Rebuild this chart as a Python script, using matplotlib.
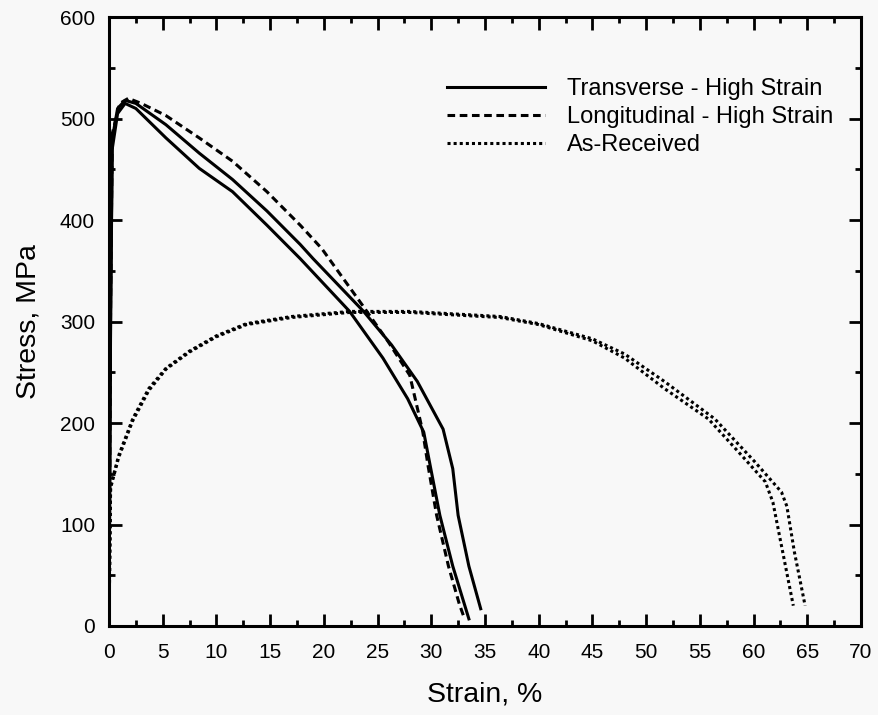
import numpy as np
import matplotlib.pyplot as plt

# data (strain %, stress MPa)
trans1_x = [0, 0.15, 0.3, 0.8, 1.5, 2.5, 5.3, 8.4, 11.5, 14.7, 17.8, 22.4, 25.5, 27.8, 29.3, 29.9, 30.8, 32.0, 33.5]
trans1_y = [0, 300, 470, 505, 515, 510, 481, 451, 428, 395, 362, 310, 264, 224, 191, 158, 109, 59, 7]

trans2_x = [0, 0.15, 0.3, 0.8, 1.5, 2.5, 5.3, 8.4, 11.5, 14.7, 17.8, 19.0, 23.7, 26.3, 28.7, 31.1, 32.0, 32.5, 33.5, 34.6]
trans2_y = [0, 310, 480, 510, 518, 515, 494, 466, 440, 409, 376, 362, 310, 277, 241, 194, 155, 109, 59, 17]

long_x = [0, 0.15, 0.3, 1.0, 1.8, 3.0, 5.3, 8.4, 11.5, 14.7, 17.8, 19.8, 23.6, 26.0, 28.0, 29.2, 29.7, 30.5, 31.6, 32.6, 33.0]
long_y = [0, 320, 485, 515, 520, 515, 503, 481, 458, 428, 395, 372, 316, 280, 247, 192, 158, 109, 59, 22, 10]

asrec1_x = [0, 0.15, 0.9, 2.2, 3.7, 5.3, 7.5, 10.0, 12.8, 17.0, 22.4, 28.0, 36.4, 40.0, 45.0, 48.0, 51.7, 56.4, 60.1, 62.6, 63.1, 63.8, 64.8]
asrec1_y = [0, 138, 168, 204, 234, 254, 271, 286, 298, 305, 310, 310, 305, 298, 283, 268, 241, 204, 162, 132, 118, 73, 20]

asrec2_x = [0, 0.15, 0.9, 2.2, 3.7, 5.3, 7.5, 10.0, 12.8, 17.0, 22.4, 28.0, 36.4, 40.0, 45.0, 48.0, 51.7, 55.8, 58.9, 61.1, 61.8, 62.6, 63.7]
asrec2_y = [0, 136, 166, 202, 232, 253, 270, 285, 297, 304, 309, 309, 304, 297, 281, 264, 234, 204, 168, 142, 122, 79, 20]

plt.rcParams['font.family'] = ['Liberation Sans', 'DejaVu Sans']

fig = plt.figure(figsize=(8.79, 7.15), dpi=100, facecolor='#f8f8f8')
ax = fig.add_axes([0.124, 0.1245, 0.8555, 0.8515])
ax.set_facecolor('#f8f8f8')

lw = 2.2
ax.plot(trans1_x, trans1_y, color='black', lw=lw, ls='-', label='Transverse - High Strain')
ax.plot(trans2_x, trans2_y, color='black', lw=lw, ls='-')
ax.plot(long_x, long_y, color='black', lw=lw, ls=(0, (2.5, 1.5)), label='Longitudinal - High Strain')
ax.plot(asrec1_x, asrec1_y, color='black', lw=lw, ls=(0, (1, 1)), label='As-Received')
ax.plot(asrec2_x, asrec2_y, color='black', lw=lw, ls=(0, (1, 1)))

ax.set_xlim(0, 70)
ax.set_ylim(0, 600)
ax.set_xticks(np.arange(0, 71, 5))
ax.set_xticks(np.arange(2.5, 70, 5), minor=True)
ax.set_yticks(np.arange(0, 601, 100))
ax.set_yticks(np.arange(50, 600, 100), minor=True)
ax.tick_params(which='both', direction='in', top=True, right=True, width=2, labelsize=15)
ax.tick_params(which='major', length=9)
ax.tick_params(which='minor', length=4.5)
ax.tick_params(axis='x', which='major', pad=12)
ax.tick_params(axis='y', which='major', pad=10)
for s in ax.spines.values():
    s.set_linewidth(2.2)

ax.set_xlabel('Strain, %', fontsize=20.5, labelpad=14)
ax.set_ylabel('Stress, MPa', fontsize=20.5, labelpad=13)

leg = ax.legend(loc='upper right', bbox_to_anchor=(0.991, 0.935), frameon=False, fontsize=17,
                handlelength=4.15, handletextpad=0.93, labelspacing=0.25)

fig.savefig('out.png', dpi=100, facecolor=fig.get_facecolor())
